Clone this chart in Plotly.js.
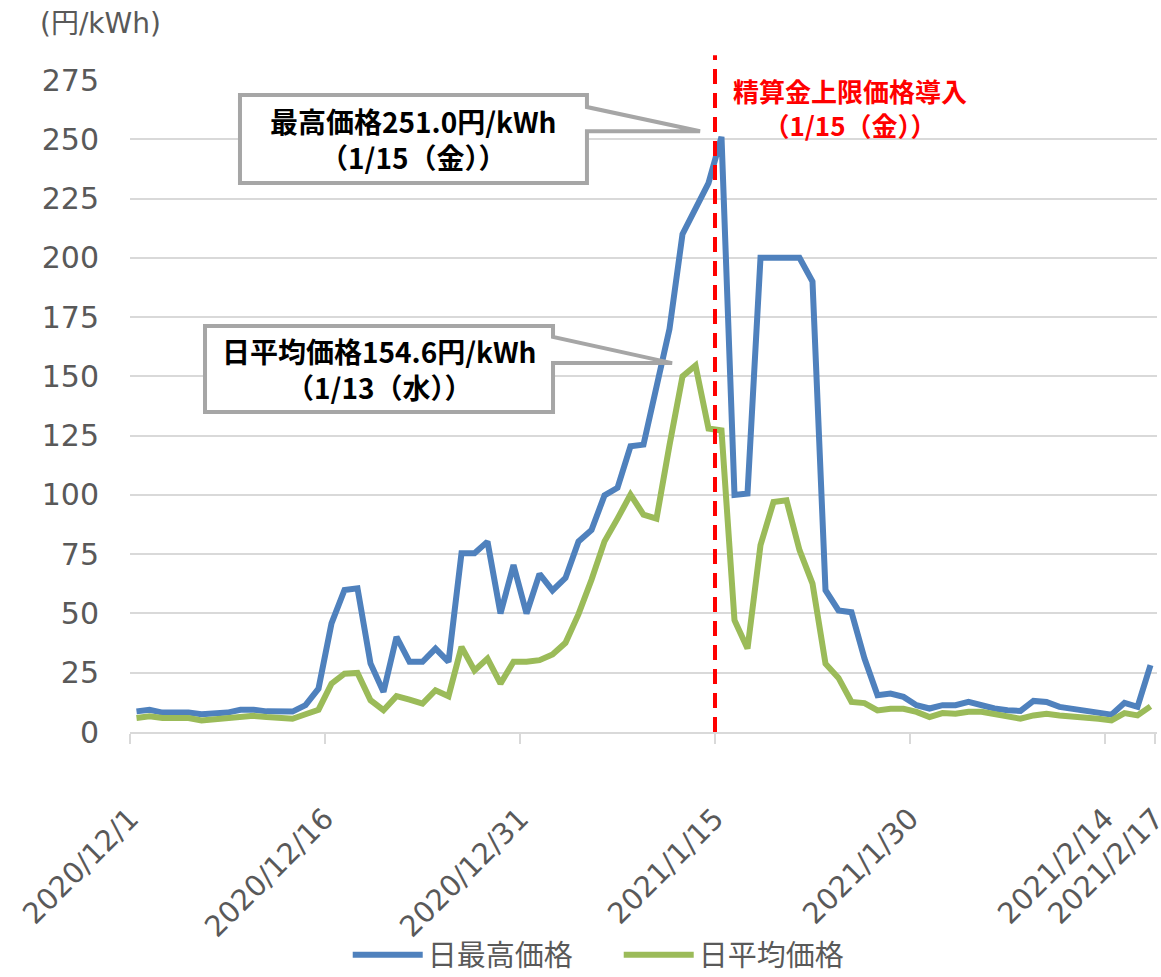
<!DOCTYPE html>
<html>
<head>
<meta charset="utf-8">
<script src="https://cdn.plot.ly/plotly-3.0.1.min.js"></script>
<style>html,body{margin:0;padding:0;background:#fff;}#chart{width:1161px;height:977px;}</style>
</head>
<body>
<div id="chart"></div>
<script>
// ---- data ----
const startDate = [2020, 12, 1];           // first day of the series
const seriesNames = ['日最高価格', '日平均価格'];
// daily maximum price (円/kWh), 2020/12/1 .. 2021/2/17
const maxPrice = [
  8.7, 9.4, 8.2, 8.2, 8.2, 7.5, 7.7, 8.2, 9.4, 9.4,
  8.7, 8.6, 8.6, 11.3, 18.3, 45.8, 59.9, 60.6, 28.9, 16.9,
  40.1, 29.6, 29.6, 35.2, 29.6, 75.4, 75.4, 80.3, 50.0, 70.4,
  50.0, 66.7, 59.7, 65.0, 80.4, 85.2, 99.8, 103.0, 120.5, 121.2,
  145.0, 170.0, 210.0, 221.0, 231.5, 251.0, 100.0, 100.6, 200.0, 200.0,
  200.0, 200.0, 190.0, 59.8, 51.3, 50.5, 31.0, 15.5, 16.2, 14.8,
  11.3, 9.9, 11.3, 11.3, 12.7, 11.3, 9.9, 9.2, 8.9, 13.1,
  12.7, 10.6, 9.9, 9.2, 8.0, 7.3, 12.3, 10.6, 28.2
];
// daily average price (円/kWh)
const avgPrice = [
  5.9, 6.6, 5.9, 5.9, 5.9, 4.9, 5.4, 5.9, 6.8, 6.8,
  6.3, 5.9, 5.6, 7.5, 9.4, 20.4, 24.6, 24.9, 13.4, 9.2,
  15.1, 13.7, 12.0, 17.6, 15.1, 35.9, 26.0, 31.0, 20.4, 29.6,
  29.6, 30.3, 32.7, 37.6, 49.7, 64.2, 80.4, 90.0, 100.1, 91.7,
  90.0, 121.0, 150.0, 154.6, 128.0, 127.2, 47.1, 35.2, 78.8, 97.0,
  97.7, 76.7, 62.6, 28.8, 22.8, 12.7, 12.2, 9.1, 9.8, 9.8,
  8.5, 6.3, 8.0, 7.7, 8.5, 8.5, 7.7, 6.6, 5.6, 7.0,
  7.7, 7.0, 6.6, 6.6, 5.6, 4.9, 8.0, 7.0, 10.8
];
const tickLabels = ['2020/12/1', '2020/12/16', '2020/12/31', '2021/1/15', '2021/1/30', '2021/2/14', '2021/2/17'];
const capDateLabel = '2021/1/15';
const unitLabel = '(円/kWh)';
const capText = '精算金上限価格導入<br>（1/15（金））';
const maxNote = '最高価格251.0円/kWh<br>（1/15（金））';
const avgNote = '日平均価格154.6円/kWh<br>（1/13（水））';

// ---- build day categories ----
const dayLabels = [];
for (let i = 0; i < maxPrice.length; i++) {
  const d = new Date(Date.UTC(startDate[0], startDate[1] - 1, startDate[2] + i));
  dayLabels.push(d.getUTCFullYear() + '/' + (d.getUTCMonth() + 1) + '/' + d.getUTCDate());
}
const dayIdx = dayLabels.map((_, i) => i);
const idxOf = lbl => dayLabels.indexOf(lbl);
const lastTick = tickLabels.length - 1;
const tickVals = tickLabels.map((t, i) => idxOf(t) + (i === lastTick ? 0.35 : -0.5));

const blue = '#4F81BD', green = '#9BBB59';
const gray = '#595959';
const baseFont = 'DejaVu Sans, Noto Sans CJK JP, sans-serif';
const cjkFont = 'Noto Sans CJK JP, DejaVu Sans, sans-serif';

const traces = [
  { x: dayIdx, y: maxPrice, text: dayLabels, name: seriesNames[0], type: 'scatter', mode: 'lines',
    line: { color: blue, width: 6 }, hovertemplate: '%{text}: %{y}<extra></extra>' },
  { x: dayIdx, y: avgPrice, text: dayLabels, name: seriesNames[1], type: 'scatter', mode: 'lines',
    line: { color: green, width: 6 }, hovertemplate: '%{text}: %{y}<extra></extra>' }
];

// callout geometry (axis units)
function callout(l, r, t, b, baseTop, tipX, tipY) {
  return 'M' + l + ',' + t + ' L' + r + ',' + t + ' L' + r + ',' + baseTop +
         ' L' + tipX + ',' + tipY + ' L' + r + ',' + tipY + ' L' + r + ',' + b +
         ' L' + l + ',' + b + ' Z';
}
const box1 = { l: 7.96, r: 34.65, t: 268.7, b: 231.6, baseTop: 263.6, tipX: 43.35, tipY: 253.4 };
const box2 = { l: 5.27, r: 32.04, t: 171.2, b: 135.0, baseTop: 166.6, tipX: 41.2, tipY: 155.6 };
const capX = idxOf(capDateLabel) - 0.5;

const layout = {
  width: 1161, height: 977,
  margin: { l: 130, r: 4, t: 80, b: 245, autoexpand: false },
  paper_bgcolor: '#ffffff', plot_bgcolor: '#ffffff',
  font: { family: baseFont, color: gray, size: 28 },
  xaxis: {
    type: 'linear', range: [-0.5, maxPrice.length - 0.5], automargin: false,
    tickmode: 'array', tickvals: tickVals, ticktext: tickLabels,
    tickangle: -45, tickfont: { size: 29, color: gray, family: baseFont },
    showgrid: false, zeroline: false,
    showline: true, linecolor: '#d9d9d9', linewidth: 2,
    ticks: 'outside', ticklen: 10, tickwidth: 2, tickcolor: '#d9d9d9',
    ticklabelstandoff: 46, ticklabeloverflow: 'allow'
  },
  yaxis: {
    range: [0, 275], dtick: 25, tick0: 0, automargin: false,
    showgrid: true, gridcolor: '#d9d9d9', gridwidth: 2,
    zeroline: false, showline: false, ticks: '',
    tickfont: { size: 30, color: gray, family: baseFont },
    ticklabelstandoff: 30
  },
  showlegend: true,
  legend: {
    orientation: 'h', x: 0.212, xanchor: 'left', y: -0.342, yanchor: 'middle',
    font: { size: 29, color: gray, family: cjkFont },
    itemwidth: 70, entrywidth: 186, entrywidthmode: 'pixels',
    traceorder: 'normal', bgcolor: 'rgba(0,0,0,0)'
  },
  shapes: [
    { type: 'line', xref: 'x', yref: 'paper', x0: capX, x1: capX, y0: 0, y1: 1.038,
      line: { color: '#ff0000', width: 4, dash: '15px,9px' }, layer: 'above' },
    { type: 'path', xref: 'x', yref: 'y', layer: 'above',
      path: callout(box1.l, box1.r, box1.t, box1.b, box1.baseTop, box1.tipX, box1.tipY),
      line: { color: '#a6a6a6', width: 4 }, fillcolor: '#ffffff' },
    { type: 'path', xref: 'x', yref: 'y', layer: 'above',
      path: callout(box2.l, box2.r, box2.t, box2.b, box2.baseTop, box2.tipX, box2.tipY),
      line: { color: '#a6a6a6', width: 4 }, fillcolor: '#ffffff' }
  ],
  annotations: [
    { xref: 'paper', yref: 'paper', x: -0.09, y: 1.087, xanchor: 'left', yanchor: 'middle',
      text: unitLabel, showarrow: false, font: { size: 28, color: gray, family: baseFont } },
    { xref: 'x', yref: 'y', x: (box1.l + box1.r) / 2, y: (box1.t + box1.b) / 2,
      text: maxNote, showarrow: false, align: 'center',
      font: { size: 28, color: '#000000', family: cjkFont, weight: 700 } },
    { xref: 'x', yref: 'y', x: (box2.l + box2.r) / 2, y: (box2.t + box2.b) / 2,
      text: avgNote, showarrow: false, align: 'center',
      font: { size: 28, color: '#000000', family: cjkFont, weight: 700 } },
    { xref: 'x', yref: 'paper', x: capX, xshift: 16, y: 0.9585, xanchor: 'left', yanchor: 'middle',
      text: capText, showarrow: false, align: 'center',
      font: { size: 26, color: '#ff0000', family: cjkFont, weight: 700 } }
  ]
};

Plotly.newPlot('chart', traces, layout, { displayModeBar: false, responsive: false });
</script>
</body>
</html>
